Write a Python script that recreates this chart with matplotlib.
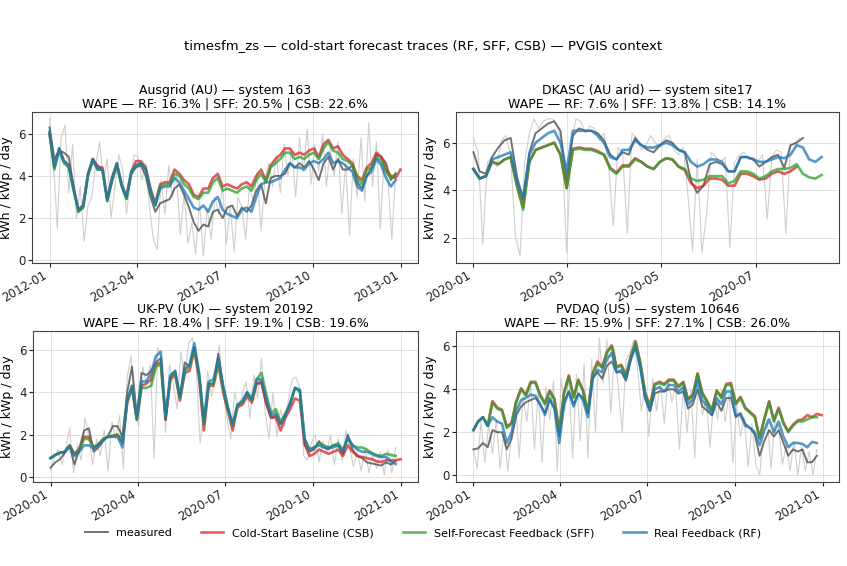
import matplotlib
matplotlib.use("Agg")
import matplotlib.pyplot as plt
import matplotlib.dates as mdates
import pandas as pd

# ---------------- data ----------------
SUPTITLE = "timesfm_zs — cold-start forecast traces (RF, SFF, CSB) — PVGIS context"
LEGEND_LABELS = ["measured", "Cold-Start Baseline (CSB)", "Self-Forecast Feedback (SFF)", "Real Feedback (RF)"]

# Panel 1: Ausgrid (AU)
AUS_TITLE = "Ausgrid (AU) — system 163\nWAPE — RF: 16.3% | SFF: 20.5% | CSB: 22.6%"
AUS_START = "2012-01-01"
AUS_RAW_STEP = 4
AUS_RAW = [6.7, 4.8, 1.5, 5.8, 6.4, 3.2, 5.5, 2.0, 3.5, 0.9,
           2.6, 3.0, 4.5, 5.6, 3.8, 4.8, 2.0, 3.5, 5.0, 4.3,
           2.2, 3.8, 5.0, 4.9, 3.8, 4.6, 2.5, 1.0, 0.5, 3.8,
           2.2, 4.5, 3.0, 4.1, 1.2, 3.2, 0.8, 1.8, 0.3, 2.8,
           0.2, 2.5, 1.0, 3.0, 2.2, 3.5, 0.8, 2.6, 0.4, 3.0,
           2.5, 1.0, 3.5, 2.8, 4.2, 1.4, 3.8, 4.6, 3.5, 5.0,
           3.2, 5.5, 4.0, 5.2, 3.0, 5.8, 4.2, 6.2, 3.6, 5.5,
           4.2, 6.0, 3.5, 5.3, 4.0, 5.6, 2.2, 4.6, 1.2, 4.8,
           3.0, 5.8, 2.8, 6.5, 3.5, 5.6, 1.5, 4.8, 3.8, 1.0,
           4.2]
AUS_STEP = 5
AUS_MEAS = [6.3, 4.8, 5.2, 5.1, 4.9, 3.5, 2.3, 2.5, 4.0, 4.8,
            4.5, 4.3, 2.8, 3.7, 4.5, 3.5, 2.9, 4.1, 4.4, 4.5,
            4.0, 3.0, 2.3, 2.7, 2.8, 2.9, 3.4, 3.6, 3.1, 2.5,
            1.8, 1.4, 1.7, 1.6, 2.3, 2.4, 2.0, 2.5, 2.6, 2.1,
            2.5, 2.3, 2.6, 3.3, 3.6, 2.7, 3.9, 4.0, 4.0, 4.1,
            4.6, 4.4, 4.6, 4.4, 4.7, 4.3, 3.8, 4.6, 4.9, 4.3,
            4.8, 4.3, 4.3, 4.5, 3.7, 3.4, 4.0, 4.4, 5.0, 4.9,
            4.6, 3.8, 4.1]
AUS_CSB = [6.0, 4.4, 5.3, 4.7, 4.5, 3.4, 2.4, 2.6, 4.1, 4.8,
           4.4, 4.4, 2.9, 3.9, 4.6, 3.6, 3.0, 4.2, 4.7, 4.7,
           4.4, 3.4, 2.7, 3.6, 3.7, 3.7, 4.3, 4.1, 3.8, 3.6,
           3.1, 3.0, 3.4, 3.4, 3.9, 4.1, 3.5, 3.6, 3.5, 3.4,
           3.6, 3.7, 3.5, 4.0, 4.3, 3.8, 4.5, 4.8, 5.0, 5.3,
           5.3, 5.0, 5.1, 5.0, 5.2, 5.3, 4.9, 5.5, 5.7, 5.3,
           5.4, 5.0, 4.8, 4.6, 4.0, 3.8, 4.4, 4.6, 5.1, 4.9,
           4.3, 4.0, 3.9, 4.3]
AUS_SFF = [6.0, 4.3, 5.2, 4.6, 4.4, 3.3, 2.3, 2.5, 4.0, 4.7,
           4.3, 4.3, 2.8, 3.8, 4.5, 3.5, 2.9, 4.1, 4.5, 4.6,
           4.3, 3.3, 2.6, 3.5, 3.6, 3.6, 4.1, 4.0, 3.6, 3.4,
           3.0, 2.9, 3.2, 3.2, 3.7, 3.9, 3.3, 3.4, 3.3, 3.2,
           3.4, 3.5, 3.3, 3.8, 4.1, 3.7, 4.4, 4.6, 4.8, 5.1,
           5.1, 4.8, 4.9, 4.8, 5.0, 5.1, 4.8, 5.3, 5.6, 5.2,
           5.1, 4.8, 4.7, 4.5, 3.9, 3.6, 4.3, 4.4, 4.9, 4.7,
           4.2, 3.9, 4.1]
AUS_RF = [6.1, 4.4, 5.3, 4.7, 4.5, 3.4, 2.4, 2.6, 4.1, 4.8,
          4.3, 4.3, 2.9, 3.9, 4.6, 3.6, 3.0, 4.2, 4.5, 4.6,
          4.3, 3.3, 2.6, 3.4, 3.5, 3.5, 3.9, 3.7, 3.3, 2.9,
          2.5, 2.4, 2.6, 2.3, 2.8, 3.0, 2.4, 2.2, 2.1, 2.0,
          2.4, 2.5, 2.3, 3.0, 3.6, 3.7, 3.7, 3.8, 3.9, 4.3,
          4.6, 4.4, 4.4, 4.3, 4.6, 4.7, 4.6, 4.8, 5.1, 4.6,
          4.7, 4.6, 4.4, 4.2, 3.5, 3.3, 4.0, 4.2, 4.8, 4.5,
          3.9, 3.5, 3.8]

# Panel 2: DKASC (AU arid)
DKA_TITLE = "DKASC (AU arid) — system site17\nWAPE — RF: 7.6% | SFF: 13.8% | CSB: 14.1%"
DKA_START = "2020-01-01"
DKA_RAW_STEP = 3
DKA_RAW = [6.2, 5.6, 1.75, 5.2, 5.4, 5.0, 6.1, 6.3, 5.4, 2.1,
           1.25, 5.2, 6.4, 7.0, 6.6, 6.9, 7.0, 7.0, 6.7, 5.9,
           1.4, 6.0, 7.0, 6.9, 6.4, 6.7, 6.6, 6.1, 6.4, 5.0,
           2.5, 5.8, 5.6, 2.2, 6.4, 6.2, 5.7, 5.9, 6.3, 6.0,
           5.8, 6.2, 6.3, 5.7, 5.5, 5.8, 3.8, 1.45, 5.3, 1.4,
           3.0, 5.6, 5.4, 5.2, 5.4, 1.6, 5.2, 5.5, 5.6, 5.3,
           5.4, 5.2, 5.5, 2.8, 5.4, 5.7, 5.6, 2.2, 5.9, 6.0,
           6.2]
DKA_STEP = 4
DKA_MEAS = [5.6, 4.8, 4.7, 5.4, 5.8, 6.1, 6.2, 4.6, 3.6, 5.6,
            6.4, 6.6, 6.8, 6.9, 6.5, 4.4, 6.3, 6.6, 6.5, 6.5,
            6.4, 6.1, 5.5, 5.3, 5.6, 5.5, 6.2, 5.9, 5.7, 5.6,
            5.9, 6.1, 6.0, 5.7, 5.6, 4.4, 3.9, 4.2, 5.1, 5.2,
            5.1, 4.8, 4.8, 5.4, 5.4, 5.3, 5.0, 5.2, 5.4, 5.5,
            4.95, 5.9, 6.0, 6.2]
DKA_CSB = [4.9, 4.5, 4.6, 5.2, 5.1, 5.3, 5.4, 4.2, 3.3, 5.2,
           5.7, 5.8, 5.9, 6.0, 5.5, 4.1, 5.75, 5.8, 5.75, 5.75,
           5.65, 5.5, 4.95, 4.75, 5.05, 5.05, 5.35, 5.2, 5.0, 4.9,
           5.2, 5.35, 5.3, 5.0, 4.85, 4.3, 4.1, 4.2, 4.5, 4.5,
           4.45, 4.2, 4.2, 4.7, 4.7, 4.6, 4.45, 4.5, 4.7, 4.8,
           4.7, 4.8, 5.0]
DKA_SFF = [4.9, 4.5, 4.6, 5.2, 5.1, 5.3, 5.4, 4.2, 3.2, 5.2,
           5.7, 5.8, 5.9, 6.0, 5.5, 4.1, 5.7, 5.75, 5.7, 5.7,
           5.6, 5.5, 4.9, 4.7, 5.0, 5.0, 5.3, 5.2, 5.0, 4.9,
           5.2, 5.35, 5.3, 5.0, 4.9, 4.5, 4.4, 4.45, 4.6, 4.6,
           4.6, 4.3, 4.4, 4.8, 4.8, 4.7, 4.5, 4.6, 4.8, 4.9,
           4.9, 4.95, 5.1, 4.7, 4.55, 4.5, 4.65]
DKA_RF = [4.9, 4.5, 4.6, 5.3, 5.4, 5.5, 5.6, 4.4, 3.7, 5.5,
          6.0, 6.2, 6.4, 6.5, 6.0, 4.8, 6.5, 6.5, 6.5, 6.5,
          6.3, 6.0, 5.4, 5.3, 5.7, 5.7, 6.1, 5.9, 5.8, 5.8,
          5.9, 6.0, 5.9, 5.7, 5.6, 5.2, 5.0, 5.1, 5.3, 5.3,
          5.2, 4.8, 4.8, 5.4, 5.4, 5.3, 5.2, 5.2, 5.3, 5.4,
          5.35, 5.5, 5.9, 5.8, 5.3, 5.2, 5.4]

# Panel 3: UK-PV (UK)
UKP_TITLE = "UK-PV (UK) — system 20192\nWAPE — RF: 18.4% | SFF: 19.1% | CSB: 19.6%"
UKP_START = "2020-01-01"
UKP_RAW_STEP = 4
UKP_RAW = [0.3, 0.9, 1.3, 0.6, 1.4, 2.3, 0.2, 1.5, 0.8, 2.8,
           1.9, 0.6, 1.8, 1.0, 2.2, 0.3, 2.6, 1.8, 2.9, 0.4,
           4.7, 5.7, 3.0, 2.4, 5.2, 4.4, 5.3, 0.9, 6.1, 5.6,
           2.1, 5.3, 4.4, 3.2, 5.9, 4.6, 6.3, 6.55, 5.2, 1.6,
           3.0, 5.0, 3.8, 4.8, 6.2, 4.0, 2.8, 1.8, 4.0, 3.2,
           3.9, 4.5, 2.8, 4.8, 3.7, 5.6, 3.0, 1.8, 4.0, 1.9,
           3.2, 2.4, 3.6, 4.6, 4.7, 4.2, 1.0, 0.8, 1.6, 2.0,
           0.7, 1.7, 1.2, 2.0, 0.6, 1.8, 0.8, 2.2, 1.4, 0.5,
           1.2, 0.3, 1.4, 0.2, 1.1, 0.4, 1.2, 0.1, 1.3, 0.2,
           1.4]
UKP_STEP = 5
UKP_MEAS = [0.45, 0.7, 0.85, 1.15, 1.45, 0.6, 1.3, 2.2, 2.3, 1.2,
            1.4, 1.7, 1.95, 2.4, 2.4, 1.9, 4.0, 5.2, 2.9, 4.9,
            4.8, 5.0, 5.4, 5.6, 2.7, 4.7, 5.0, 3.8, 5.4, 5.2,
            6.1, 4.8, 2.5, 4.4, 4.4, 5.8, 4.3, 3.3, 2.4, 3.4,
            3.5, 4.0, 3.6, 4.4, 4.4, 3.4, 2.8, 2.9, 2.5, 3.0,
            3.4, 4.2, 4.0, 1.5, 1.2, 1.3, 1.7, 1.4, 1.3, 1.5,
            1.5, 1.1, 2.0, 1.3, 1.0, 0.9, 0.7, 0.65, 0.6, 0.55,
            0.7, 0.6, 0.75]
UKP_CSB = [0.9, 1.05, 1.15, 1.2, 1.5, 1.1, 1.35, 1.9, 1.9, 1.4,
           1.55, 1.8, 1.9, 1.95, 2.0, 1.7, 3.5, 4.2, 2.7, 4.3,
           4.4, 4.6, 5.3, 5.4, 2.7, 4.6, 4.8, 3.6, 4.9, 5.0,
           6.0, 4.6, 2.2, 4.3, 4.3, 5.3, 4.0, 3.1, 2.2, 3.3,
           3.4, 3.8, 3.5, 4.4, 4.5, 3.5, 2.8, 2.8, 2.2, 2.8,
           3.2, 3.7, 3.6, 1.6, 1.0, 1.1, 1.3, 1.2, 1.1, 1.2,
           1.3, 1.0, 1.5, 1.2, 1.0, 0.95, 0.9, 0.85, 0.75, 0.72,
           0.8, 0.8, 0.8, 0.85]
UKP_SFF = [0.9, 1.05, 1.15, 1.2, 1.5, 1.05, 1.3, 1.8, 1.8, 1.4,
           1.55, 1.8, 1.9, 1.95, 2.0, 1.6, 3.6, 4.3, 2.7, 4.2,
           4.2, 4.3, 5.2, 5.3, 2.8, 4.7, 4.9, 3.7, 5.0, 5.2,
           6.1, 4.8, 2.5, 4.4, 4.4, 5.5, 4.2, 3.2, 2.4, 3.4,
           3.5, 3.9, 3.6, 4.6, 4.9, 3.9, 3.0, 3.2, 2.6, 3.0,
           3.5, 4.2, 4.1, 1.8, 1.3, 1.4, 1.6, 1.5, 1.4, 1.5,
           1.6, 1.3, 1.8, 1.5, 1.4, 1.4, 1.3, 1.15, 1.05, 1.0,
           1.1, 1.05, 1.0]
UKP_RF = [0.9, 1.05, 1.15, 1.2, 1.45, 1.0, 1.2, 1.5, 1.5, 1.35,
          1.5, 1.75, 1.9, 1.9, 1.9, 1.4, 3.6, 4.3, 2.8, 4.5,
          4.5, 4.9, 5.7, 5.9, 2.8, 4.8, 5.0, 3.8, 5.1, 5.3,
          6.3, 4.9, 2.6, 4.5, 4.6, 5.6, 4.3, 3.3, 2.5, 3.4,
          3.6, 4.0, 3.7, 4.6, 4.6, 3.7, 2.9, 3.0, 2.5, 2.9,
          3.5, 4.2, 4.1, 1.8, 1.3, 1.4, 1.5, 1.4, 1.4, 1.4,
          1.5, 1.2, 1.9, 1.5, 1.3, 1.2, 1.2, 1.1, 1.0, 0.95,
          0.95, 0.75, 0.62]

# Panel 4: PVDAQ (US)
PVD_TITLE = "PVDAQ (US) — system 10646\nWAPE — RF: 15.9% | SFF: 27.1% | CSB: 26.0%"
PVD_START = "2020-01-01"
PVD_RAW_STEP = 4
PVD_RAW = [1.2, 0.3, 2.5, 0.6, 2.4, 1.0, 2.6, 0.3, 2.1, 0.2,
           1.9, 3.5, 0.8, 3.7, 2.5, 4.3, 1.2, 3.9, 0.6, 4.1,
           2.6, 4.4, 0.2, 4.5, 3.0, 4.6, 0.8, 4.7, 1.6, 5.2,
           0.8, 5.4, 2.0, 6.4, 4.3, 6.3, 2.9, 5.9, 4.0, 2.0,
           5.4, 5.7, 6.3, 5.0, 3.0, 4.2, 1.8, 4.5, 3.0, 4.4,
           2.4, 4.5, 3.4, 4.2, 1.2, 4.1, 2.0, 4.0, 0.8, 4.6,
           2.8, 3.6, 1.3, 3.6, 2.6, 4.0, 2.5, 3.8, 0.6, 3.3,
           1.8, 2.7, 0.4, 2.4, 0.5, 0.0, 1.9, 2.6, 0.3, 2.5,
           2.2, 0.5, 1.4, 0.2, 1.6, 0.0, 1.3, 0.2, 1.1, 0.0,
           1.2]
PVD_STEP = 5
PVD_MEAS = [1.2, 1.25, 1.5, 1.3, 2.1, 2.0, 2.0, 1.2, 1.7, 2.8,
            3.2, 3.4, 3.5, 3.6, 3.3, 2.9, 3.5, 3.1, 1.8, 3.4,
            3.9, 3.3, 3.8, 3.6, 2.9, 4.5, 4.8, 4.5, 5.1, 5.3,
            4.8, 4.8, 4.4, 5.4, 6.0, 5.0, 3.6, 3.0, 3.8, 3.9,
            3.9, 4.0, 4.0, 3.8, 3.9, 3.1, 3.3, 4.0, 3.2, 3.0,
            2.8, 3.4, 3.0, 3.6, 3.6, 2.7, 2.9, 2.4, 2.2, 1.9,
            0.9, 1.6, 2.1, 1.8, 2.1, 1.5, 0.9, 1.2, 1.1, 1.2,
            0.6, 0.6, 0.9]
PVD_CSB = [2.1, 2.5, 2.7, 2.3, 3.45, 3.15, 3.05, 2.25, 2.45, 3.45,
           4.05, 3.75, 4.35, 4.35, 3.75, 3.35, 3.95, 3.55, 2.05, 3.85,
           4.65, 3.65, 4.45, 3.95, 2.95, 4.75, 5.3, 5.05, 5.75, 6.05,
           5.05, 5.15, 4.65, 5.55, 6.25, 5.25, 3.85, 3.25, 4.25, 4.35,
           4.25, 4.45, 4.45, 4.15, 4.35, 3.55, 3.75, 4.75, 3.85, 3.45,
           3.05, 3.95, 3.65, 4.25, 4.3, 3.35, 3.65, 3.15, 2.95, 2.75,
           1.75, 2.65, 3.45, 2.55, 3.15, 2.45, 2.05, 2.35, 2.55, 2.6,
           2.8, 2.7, 2.85, 2.8]
PVD_SFF = [2.1, 2.5, 2.7, 2.3, 3.4, 3.1, 3.0, 2.2, 2.4, 3.4,
           4.0, 3.7, 4.3, 4.3, 3.7, 3.3, 3.9, 3.5, 2.0, 3.8,
           4.6, 3.6, 4.4, 3.9, 2.9, 4.7, 5.2, 5.0, 5.7, 6.0,
           5.0, 5.1, 4.6, 5.5, 6.2, 5.2, 3.8, 3.2, 4.2, 4.3,
           4.2, 4.4, 4.4, 4.1, 4.3, 3.5, 3.7, 4.7, 3.8, 3.4,
           3.0, 3.9, 3.6, 4.2, 4.2, 3.3, 3.6, 3.1, 2.9, 2.7,
           1.7, 2.6, 3.4, 2.5, 3.1, 2.4, 2.0, 2.3, 2.5, 2.5,
           2.6, 2.7, 2.7]
PVD_RF = [2.1, 2.5, 2.7, 2.3, 2.7, 2.5, 2.4, 1.5, 2.0, 3.0,
          3.5, 3.6, 3.75, 3.7, 3.3, 2.8, 3.6, 3.1, 1.5, 3.3,
          3.9, 3.2, 3.8, 3.5, 2.7, 4.5, 4.9, 4.8, 5.4, 5.7,
          4.8, 4.9, 4.5, 5.4, 6.0, 5.0, 3.6, 3.0, 4.0, 4.1,
          3.9, 4.2, 4.2, 3.9, 4.1, 3.3, 3.5, 4.4, 3.5, 3.2,
          2.8, 3.6, 3.3, 3.9, 3.9, 2.8, 2.8, 2.3, 2.2, 2.0,
          1.4, 2.1, 2.6, 2.0, 2.5, 1.8, 1.3, 1.5, 1.5, 1.45,
          1.3, 1.55, 1.5]

PANELS = [
    (AUS_TITLE, AUS_START, AUS_RAW_STEP, AUS_RAW, AUS_STEP, AUS_MEAS, AUS_CSB, AUS_SFF, AUS_RF, [1, 4, 7, 10]),
    (DKA_TITLE, DKA_START, DKA_RAW_STEP, DKA_RAW, DKA_STEP, DKA_MEAS, DKA_CSB, DKA_SFF, DKA_RF, [1, 3, 5, 7, 9, 11]),
    (UKP_TITLE, UKP_START, UKP_RAW_STEP, UKP_RAW, UKP_STEP, UKP_MEAS, UKP_CSB, UKP_SFF, UKP_RF, [1, 4, 7, 10]),
    (PVD_TITLE, PVD_START, PVD_RAW_STEP, PVD_RAW, PVD_STEP, PVD_MEAS, PVD_CSB, PVD_SFF, PVD_RF, [1, 4, 7, 10]),
]

# ---------------- styles ----------------
C_MEAS = "#444444"
C_CSB = "#d62728"
C_SFF = "#2ca02c"
C_RF = "#1f77b4"

W, H = 847, 566
RECTS = [
    (32, 112, 418, 263),
    (456, 112, 839, 263),
    (33, 331, 418, 482),
    (456, 331, 839, 482),
]

fig = plt.figure(figsize=(W / 100, H / 100), dpi=100)

def dates(start, step, n):
    return pd.date_range(start, periods=n, freq=f"{step}D")

handles = None
for (title, start, rstep, raw, step, meas, csb, sff, rf, months), (l, t, r, b) in zip(PANELS, RECTS):
    ax = fig.add_axes([l / W, 1 - b / H, (r - l) / W, (b - t) / H])
    ax.plot(dates(start, rstep, len(raw)), raw, color="#888888", lw=0.8, alpha=0.4, zorder=1)
    h0, = ax.plot(dates(start, step, len(meas)), meas, color=C_MEAS, lw=1.4, alpha=0.75, zorder=2)
    h1, = ax.plot(dates(start, step, len(csb)), csb, color=C_CSB, lw=1.9, alpha=0.75, zorder=3)
    h2, = ax.plot(dates(start, step, len(sff)), sff, color=C_SFF, lw=1.9, alpha=0.75, zorder=4)
    h3, = ax.plot(dates(start, step, len(rf)), rf, color=C_RF, lw=1.9, alpha=0.75, zorder=5)
    handles = [h0, h1, h2, h3]
    ax.set_title(title, fontsize=9, pad=3, linespacing=1.1)
    ax.set_ylabel("kWh / kWp / day", fontsize=9, labelpad=4)
    ax.xaxis.set_major_locator(mdates.MonthLocator(bymonth=months))
    ax.xaxis.set_major_formatter(mdates.DateFormatter("%Y-%m"))
    ax.tick_params(labelsize=8.5, colors="#222222", length=3, pad=1.5)
    for lab in ax.get_xticklabels():
        lab.set_rotation(30)
        lab.set_ha("right")
    ax.grid(True, color="#cccccc", lw=0.7, alpha=0.6)
    for s in ax.spines.values():
        s.set_color("#444444")

fig.text(0.5, 1 - 46 / H, SUPTITLE, ha="center", va="center", fontsize=9.5)
fig.legend(handles, LEGEND_LABELS, loc="center", bbox_to_anchor=(0.5, 1 - 533 / H),
           ncol=4, frameon=False, fontsize=8, columnspacing=2.6)

fig.savefig("out.png", dpi=100)
